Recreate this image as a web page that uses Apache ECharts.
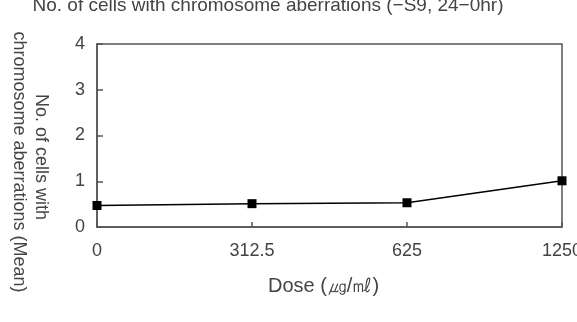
<!DOCTYPE html>
<html><head><meta charset="utf-8">
<script src="https://cdn.jsdelivr.net/npm/echarts@6/dist/echarts.min.js"></script>
<style>html,body{margin:0;padding:0;background:#fff}#c{width:577px;height:322px}</style>
</head><body><div id="c"></div>
<script>
var categories = ['0', '312.5', '625', '1250'];
var meanValues = [0.47, 0.51, 0.53, 1.01];
var yTicks = [0, 1, 2, 3, 4];
var titleText = 'No. of cells with chromosome aberrations (\u2212S9, 24\u22120hr)';
var yNameLines = ['No. of cells with', 'chromosome aberrations (Mean)'];
var xName = 'Dose (\u338D/\u3396)';

var FONT = 'Liberation Sans, Arial, sans-serif';
var TXT = '#444';
var chart = echarts.init(document.getElementById('c'), null, {renderer: 'canvas'});
chart.setOption({
  animation: false,
  backgroundColor: '#fff',
  grid: {left: 97, right: 15, top: 44, bottom: 95, show: true, borderColor: '#555', borderWidth: 1.5,
         containLabel: false, outerBoundsMode: 'none'},
  xAxis: {
    type: 'category', data: categories, boundaryGap: false,
    axisLine: {lineStyle: {color: '#555', width: 1.5}},
    axisTick: {inside: true, length: 5, lineStyle: {color: '#555', width: 1.5}},
    axisLabel: {fontFamily: FONT, fontSize: 18, color: TXT, margin: 15},
    name: xName, nameLocation: 'middle', nameGap: 49,
    nameTextStyle: {fontFamily: FONT, fontSize: 20, color: TXT, padding: [0, 12, 0, 0]}
  },
  yAxis: {
    type: 'value', min: yTicks[0], max: yTicks[yTicks.length - 1], interval: 1,
    axisLine: {show: true, lineStyle: {color: '#555', width: 1.5}},
    axisTick: {show: true, inside: true, length: 6, lineStyle: {color: '#555', width: 1.5}},
    axisLabel: {fontFamily: FONT, fontSize: 18, color: TXT, margin: 12},
    splitLine: {show: false}
  },
  graphic: [
    {type: 'text', x: 268, y: 15,
     style: {text: titleText, fontFamily: FONT, fontSize: 19, fill: TXT, align: 'center', verticalAlign: 'bottom'}},
    {type: 'text', x: 41, y: 157, rotation: -Math.PI / 2,
     style: {text: yNameLines[0], fontFamily: FONT, fontSize: 18, fill: TXT, align: 'center', verticalAlign: 'middle'}},
    {type: 'text', x: 19, y: 162, rotation: -Math.PI / 2,
     style: {text: yNameLines[1], fontFamily: FONT, fontSize: 18, fill: TXT, align: 'center', verticalAlign: 'middle'}}
  ],
  series: [{
    type: 'line', data: meanValues,
    symbol: 'rect', symbolSize: 9,
    itemStyle: {color: '#000'},
    lineStyle: {color: '#000', width: 1.5}
  }]
});
</script></body></html>
